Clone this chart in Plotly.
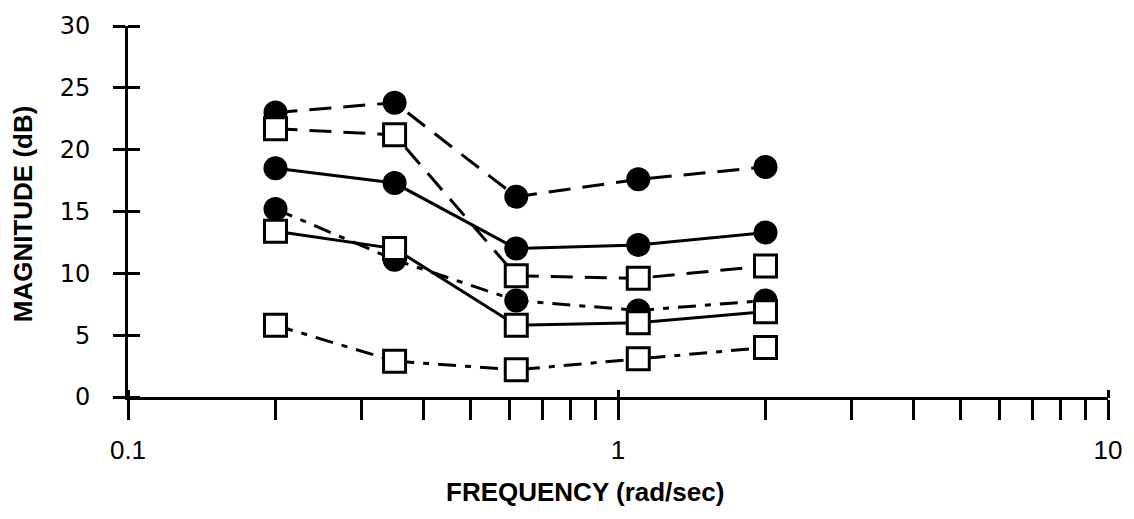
import plotly.graph_objects as go

# Frequency points (rad/sec)
freq = [0.2, 0.35, 0.62, 1.1, 2.0]

# Magnitude (dB) for each configuration
circle_dashed = [23.0, 23.8, 16.2, 17.6, 18.6]
circle_solid = [18.5, 17.3, 12.0, 12.3, 13.3]
circle_dashdot = [15.2, 11.1, 7.8, 7.0, 7.8]
square_dashed = [21.7, 21.2, 9.8, 9.6, 10.6]
square_solid = [13.4, 12.0, 5.8, 6.0, 6.9]
square_dashdot = [5.8, 2.9, 2.2, 3.1, 4.0]

# Axis ticks
y_ticks = [0, 5, 10, 15, 20, 25, 30]
x_major = [0.1, 1, 10]
x_all = [0.1, 0.2, 0.3, 0.4, 0.5, 0.6, 0.7, 0.8, 0.9,
         1, 2, 3, 4, 5, 6, 7, 8, 9, 10]
x_labels = {0.1: "0.1", 1: "1", 10: "10"}

DASH = "22px,12px"
DASHDOT = "18px,9px,6px,9px"
LW = 3

series = [
    (circle_dashed, DASH, "circle"),
    (circle_solid, "solid", "circle"),
    (circle_dashdot, DASHDOT, "circle"),
    (square_dashed, DASH, "square"),
    (square_solid, "solid", "square"),
    (square_dashdot, DASHDOT, "square"),
]

fig = go.Figure()

# connecting lines first so the markers sit on top
for vals, dash, _ in series:
    fig.add_trace(go.Scatter(
        x=freq, y=vals, mode="lines",
        line=dict(color="black", width=LW, dash=dash),
        showlegend=False, hoverinfo="skip",
    ))

for symbol in ("circle", "square"):
    for vals, dash, sym in series:
        if sym != symbol:
            continue
        if sym == "circle":
            marker = dict(symbol="circle", size=24, color="black",
                          line=dict(color="black", width=0))
        else:
            marker = dict(symbol="square", size=22, color="white",
                          line=dict(color="black", width=3))
        fig.add_trace(go.Scatter(
            x=freq, y=vals, mode="markers", marker=marker,
            showlegend=False,
        ))

PLOT_W = 1134 - 128 - 26
PLOT_H = 519 - 22 - 122

fig.update_layout(
    width=1134, height=519,
    margin=dict(l=128, r=26, t=22, b=122),
    paper_bgcolor="white", plot_bgcolor="white",
    xaxis=dict(
        type="log", range=[-1, 1],
        showline=True, linewidth=3, linecolor="black",
        showgrid=False, zeroline=False,
        ticks="outside", ticklen=20, tickwidth=2.5, tickcolor="black",
        tickvals=x_all,
        ticktext=[x_labels.get(v, "") for v in x_all],
        tickfont=dict(family="Liberation Sans", size=26, color="black"),
        ticklabelstandoff=8,
    ),
    # short upward stubs on the decade ticks, so they cross the axis
    xaxis2=dict(
        type="log", range=[-1, 1], overlaying="x", anchor="free",
        position=8 / PLOT_H, side="bottom",
        showline=False, showgrid=False, zeroline=False,
        ticks="outside", ticklen=8, tickwidth=2.5, tickcolor="black",
        tickvals=x_major, showticklabels=False,
    ),
    yaxis=dict(
        range=[0, 30],
        showline=True, linewidth=3, linecolor="black",
        showgrid=False, zeroline=False,
        ticks="outside", ticklen=12, tickwidth=2.5, tickcolor="black",
        tickvals=y_ticks,
        tickfont=dict(family="DejaVu Sans", size=24, color="black"),
        ticklabelstandoff=18,
    ),
    # right-hand half of the crossing y ticks
    yaxis2=dict(
        range=[0, 30], overlaying="y", anchor="free",
        position=12 / PLOT_W, side="left",
        showline=False, showgrid=False, zeroline=False,
        ticks="outside", ticklen=12, tickwidth=2.5, tickcolor="black",
        tickvals=y_ticks, showticklabels=False,
    ),
    annotations=[
        dict(text="<b>MAGNITUDE (dB)</b>", xref="paper", yref="paper",
             x=-0.107, y=0.493, textangle=-90, showarrow=False,
             xanchor="center", yanchor="middle",
             font=dict(family="Liberation Sans", size=26, color="black")),
        dict(text="<b>FREQUENCY (rad/sec)</b>", xref="paper", yref="paper",
             x=0.466, y=-0.256, showarrow=False,
             xanchor="center", yanchor="middle",
             font=dict(family="Liberation Sans", size=26, color="black")),
    ],
)

# empty trace bound to the overlay axes so their ticks are drawn
fig.add_trace(go.Scatter(x=[], y=[], xaxis="x2", yaxis="y2",
                         showlegend=False, hoverinfo="skip"))

fig.write_html("out.html")
